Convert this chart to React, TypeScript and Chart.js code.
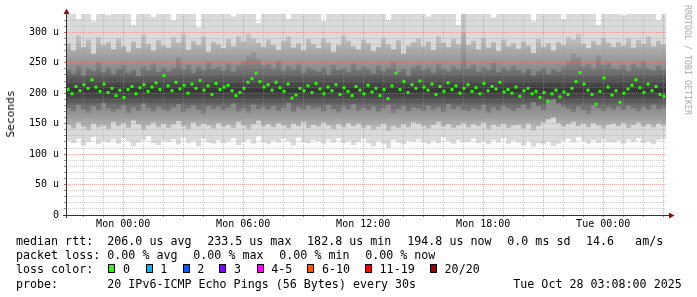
import React, { useEffect, useRef } from "react";
import { Chart, registerables } from "chart.js";

Chart.register(...registerables);

// ---- time axis (hours relative to Mon 00:00) ----
const START_HOUR = -2.86;
const END_HOUR = 27.14;
const SMOKE_STEP_HOURS = 0.25;
const MEDIAN_STEP_HOURS = 0.2;

const xTickLabelHours = [0, 6, 12, 18, 24];
const xTickLabels = ["Mon 00:00", "Mon 06:00", "Mon 12:00", "Mon 18:00", "Tue 00:00"];
const yTickLabelValues = [0, 50, 100, 150, 200, 250, 300];
const yTickLabels = ["0", "50 u", "100 u", "150 u", "200 u", "250 u", "300 u"];

// ---- median rtt (µs), one value per 12 minutes ----
const medianRtt = [
  206, 199, 211, 204, 214, 208, 222, 210, 203, 215,
  201, 208, 196, 205, 193, 206, 211, 199, 209, 214,
  203, 210, 217, 206, 229, 212, 204, 218, 207, 213,
  200, 215, 208, 221, 205, 212, 198, 216, 206, 210,
  213, 204, 196, 201, 208, 218, 224, 233, 219, 210,
  214, 205, 218, 209, 203, 215, 192, 197, 208, 204,
  212, 201, 216, 207, 199, 210, 204, 214, 198, 209,
  203, 196, 211, 205, 199, 213, 202, 208, 196, 206,
  191, 212, 233, 206, 219, 201, 214, 208, 220, 210,
  205, 215, 198, 211, 203, 217, 206, 212, 200, 208,
  214, 203, 209, 199, 216, 204, 211, 207, 218, 202,
  206, 200, 210, 195, 204, 208, 199, 203, 193, 201,
  187, 199, 205, 194, 202, 198, 208, 219, 234, 215,
  205, 198, 182, 203, 225, 210, 197, 204, 185, 200,
  207, 213, 222, 209, 201, 215, 204, 211, 198, 195,
];

// ---- smoke envelopes (µs), one value per 15 minutes ----
const smokeOuterHigh = [
  335, 335, 322, 335, 335, 318, 335, 335, 328, 335,
  335, 335, 335, 312, 335, 335, 335, 325, 335, 335,
  335, 320, 335, 335, 335, 335, 308, 335, 335, 335,
  335, 335, 335, 326, 335, 335, 335, 335, 315, 335,
  335, 335, 335, 335, 322, 335, 335, 335, 335, 335,
  335, 318, 335, 335, 335, 335, 330, 335, 335, 335,
  335, 335, 335, 335, 320, 335, 335, 335, 335, 335,
  335, 335, 326, 335, 335, 335, 335, 335, 312, 335,
  335, 335, 335, 335, 335, 324, 335, 335, 335, 335,
  335, 335, 335, 318, 335, 335, 335, 335, 335, 322,
  335, 335, 335, 335, 335, 335, 312, 335, 335, 335,
  335, 328, 335, 335, 335, 335, 335, 335, 320, 335,
];
const smokeOuterLow = [
  122, 118, 125, 114, 120, 128, 116, 121, 119, 124,
  117, 126, 121, 113, 119, 123, 130, 118, 115, 122,
  120, 124, 116, 127, 118, 121, 113, 125, 119, 117,
  123, 118, 121, 126, 115, 120, 124, 117, 129, 119,
  116, 122, 119, 125, 121, 114, 127, 120, 118, 123,
  121, 117, 124, 119, 126, 118, 122, 115, 120, 125,
  118, 113, 121, 117, 110, 123, 119, 116, 122, 120,
  124, 119, 116, 122, 118, 127, 121, 117, 123, 119,
  120, 125, 118, 121, 116, 123, 119, 126, 117, 122,
  119, 114, 121, 112, 118, 116, 120, 113, 117, 122,
  125, 119, 128, 121, 117, 123, 118, 124, 120, 119,
  122, 117, 124, 120, 126, 118, 121, 116, 123, 125,
];
const smokeMidHigh = [
  282, 270, 295, 276, 288, 265, 292, 279, 284, 272,
  290, 277, 268, 285, 274, 296, 281, 270, 287, 278,
  275, 292, 283, 298, 271, 286, 279, 293, 268, 284,
  280, 274, 289, 277, 294, 285, 298, 290, 283, 276,
  288, 279, 271, 286, 293, 275, 282, 270, 289, 281,
  274, 290, 283, 268, 279, 295, 286, 277, 272, 288,
  282, 269, 276, 291, 280, 272, 287, 265, 278, 284,
  290, 277, 285, 271, 294, 283, 276, 289, 280, 300,
  279, 286, 272, 291, 275, 284, 269, 288, 277, 282,
  273, 285, 278, 266, 289, 276, 282, 270, 284, 279,
  292, 288, 297, 281, 274, 286, 279, 291, 283, 276,
  284, 278, 290, 275, 287, 281, 293, 277, 286, 280,
];
const smokeMidLow = [
  148, 142, 152, 145, 139, 150, 144, 147, 141, 153,
  146, 151, 143, 155, 149, 140, 147, 152, 144, 150,
  143, 149, 154, 146, 141, 152, 145, 150, 147, 142,
  151, 145, 148, 143, 153, 147, 141, 149, 155, 146,
  149, 144, 151, 147, 142, 150, 146, 153, 143, 148,
  145, 152, 147, 141, 149, 144, 151, 146, 150, 143,
  147, 140, 145, 150, 138, 146, 143, 149, 144, 152,
  150, 146, 142, 148, 153, 145, 149, 143, 147, 151,
  144, 149, 146, 152, 141, 148, 145, 150, 143, 147,
  148, 142, 150, 139, 146, 152, 157, 160, 151, 145,
  149, 153, 146, 150, 144, 151, 147, 142, 148, 150,
  146, 151, 143, 148, 152, 145, 149, 144, 150, 147,
];
const smokeCoreHigh = [
  238, 232, 245, 229, 241, 236, 250, 234, 243, 231,
  240, 246, 233, 238, 228, 244, 237, 249, 235, 242,
  236, 241, 258, 239, 247, 233, 244, 238, 251, 240,
  243, 237, 249, 235, 246, 252, 262, 268, 256, 245,
  248, 240, 253, 236, 244, 239, 247, 233, 242, 238,
  235, 243, 230, 246, 238, 241, 234, 249, 237, 244,
  239, 232, 245, 236, 242, 251, 234, 240, 228, 243,
  246, 238, 242, 233, 248, 240, 236, 244, 239, 330,
  241, 247, 235, 243, 238, 250, 234, 242, 237, 245,
  238, 233, 240, 229, 236, 242, 231, 239, 235, 244,
  252, 265, 258, 244, 248, 240, 262, 246, 250, 241,
  239, 246, 236, 248, 242, 253, 240, 237, 245, 238,
];
const smokeCoreLow = [
  176, 170, 181, 173, 168, 179, 172, 184, 175, 169,
  174, 180, 167, 177, 171, 183, 176, 170, 178, 173,
  171, 177, 182, 169, 175, 180, 173, 166, 179, 174,
  178, 172, 176, 183, 170, 175, 168, 181, 174, 177,
  173, 179, 171, 176, 184, 169, 177, 172, 180, 175,
  177, 170, 181, 174, 168, 178, 173, 182, 171, 176,
  172, 178, 169, 175, 181, 167, 174, 179, 170, 177,
  175, 171, 180, 173, 177, 169, 182, 174, 178, 172,
  170, 176, 173, 181, 168, 177, 172, 179, 175, 171,
  176, 181, 174, 185, 179, 172, 188, 190, 183, 178,
  174, 169, 178, 172, 166, 180, 175, 171, 177, 173,
  178, 172, 180, 175, 170, 177, 173, 181, 174, 176,
];

// ---- legend text ----
const medianLabel = "median rtt:";
const medianStats = ["206.0 us avg", "233.5 us max", "182.8 us min", "194.8 us now", "0.0 ms sd", "14.6   am/s"];
const lossLabel = "packet loss:";
const lossStats = ["0.00 % avg", "0.00 % max", "0.00 % min", "0.00 % now"];
const lossColorLabel = "loss color:";
const lossColorNames = ["0", "1", "2", "3", "4-5", "6-10", "11-19", "20/20"];
const lossColorValues = ["#26ff00", "#00b8ff", "#0059ff", "#7e00ff", "#ff00ff", "#ff5500", "#ff0000", "#a00000"];
const probeLabel = "probe:";
const probeText = "20 IPv6-ICMP Echo Pings (56 Bytes) every 30s";
const stampText = "Tue Oct 28 03:08:00 2025";
const yTitle = "Seconds";
const watermark = "RRDTOOL / TOBI OETIKER";

// ---- layout constants ----
const MONO = "'DejaVu Sans Mono', monospace";
const medianStatX = [107.3, 207.2, 307.1, 407.3, 507.3, 586];
const lossStatX = [107.3, 193.3, 279.3, 365.2];
const lossBoxX = [108.3, 145.7, 182.7, 219.3, 256.7, 307.3, 365, 430];

const smokeX = (i: number) => START_HOUR + (i + 0.5) * SMOKE_STEP_HOURS;
const medianX = (i: number) => START_HOUR + (i + 0.5) * MEDIAN_STEP_HOURS;

function gradientFor(chart: any, stops: [number, number][]) {
  const { ctx, scales } = chart;
  const y = scales.y;
  const top = y.getPixelForValue(340);
  const bottom = y.getPixelForValue(100);
  const g = ctx.createLinearGradient(0, top, 0, bottom);
  for (const [v, a] of stops) {
    const off = Math.min(1, Math.max(0, (y.getPixelForValue(v) - top) / (bottom - top)));
    g.addColorStop(off, `rgba(0,0,0,${a})`);
  }
  return g;
}

const MID_STOPS: [number, number][] = [
  [340, 0.04], [300, 0.08], [285, 0.14], [270, 0.22], [250, 0.32], [235, 0.38], [205, 0.42],
  [175, 0.36], [160, 0.28], [150, 0.2], [140, 0.14], [100, 0.05],
];
const CORE_STOPS: [number, number][] = [
  [340, 0.1], [260, 0.1], [245, 0.12], [235, 0.18], [222, 0.35], [205, 0.58], [190, 0.4],
  [180, 0.22], [170, 0.14], [100, 0.1],
];

const rrdAxes = {
  id: "rrdAxes",
  afterDraw(chart: any) {
    const { ctx, chartArea: a } = chart;
    ctx.save();
    ctx.strokeStyle = "#333333";
    ctx.lineWidth = 1;
    ctx.setLineDash([]);
    ctx.beginPath();
    ctx.moveTo(a.left + 0.5, a.bottom + 3);
    ctx.lineTo(a.left + 0.5, a.top - 1);
    ctx.moveTo(a.left - 3, a.bottom + 0.5);
    ctx.lineTo(a.right + 4, a.bottom + 0.5);
    ctx.stroke();
    ctx.fillStyle = "#8c1010";
    ctx.beginPath();
    ctx.moveTo(a.left + 0.5, a.top - 5.5);
    ctx.lineTo(a.left - 2.5, a.top);
    ctx.lineTo(a.left + 3.5, a.top);
    ctx.closePath();
    ctx.fill();
    ctx.beginPath();
    ctx.moveTo(a.right + 8.5, a.bottom + 0.5);
    ctx.lineTo(a.right + 3, a.bottom - 2.5);
    ctx.lineTo(a.right + 3, a.bottom + 3.5);
    ctx.closePath();
    ctx.fill();
    ctx.restore();
  },
};

export default function App() {
  const ref = useRef<HTMLCanvasElement>(null);

  useEffect(() => {
    const canvas = ref.current;
    if (!canvas) return;

    const bandDefaults = {
      type: "bar" as const,
      grouped: false,
      barPercentage: 1,
      categoryPercentage: 1,
      borderWidth: 0,
      inflateAmount: 0,
    };

    const chart = new Chart(canvas, {
      type: "bar",
      data: {
        datasets: [
          {
            type: "line",
            label: "median",
            data: medianRtt.map((v, i) => ({ x: medianX(i), y: v })),
            showLine: false,
            pointStyle: "rect",
            pointRadius: 2.1,
            pointBackgroundColor: "#26ff00",
            pointBorderWidth: 0,
            order: 0,
          } as any,
          {
            ...bandDefaults,
            label: "core",
            data: smokeCoreLow.map((v, i) => ({ x: smokeX(i), y: [v, smokeCoreHigh[i]] })),
            backgroundColor: (c: any) => (c.chart.chartArea ? gradientFor(c.chart, CORE_STOPS) : "rgba(0,0,0,0.4)"),
            order: 1,
          } as any,
          {
            ...bandDefaults,
            label: "mid",
            data: smokeMidLow.map((v, i) => ({ x: smokeX(i), y: [v, smokeMidHigh[i]] })),
            backgroundColor: (c: any) => (c.chart.chartArea ? gradientFor(c.chart, MID_STOPS) : "rgba(0,0,0,0.3)"),
            order: 2,
          } as any,
          {
            ...bandDefaults,
            label: "outer",
            data: smokeOuterLow.map((v, i) => ({ x: smokeX(i), y: [v, smokeOuterHigh[i]] })),
            backgroundColor: "#dadada",
            order: 3,
          } as any,
        ],
      },
      options: {
        responsive: false,
        devicePixelRatio: 1,
        animation: false,
        events: [],
        layout: { padding: { left: 0, top: 14, right: 31, bottom: 62 } },
        plugins: { legend: { display: false }, tooltip: { enabled: false }, title: { display: false } },
        scales: {
          x: {
            type: "linear",
            min: START_HOUR,
            max: END_HOUR,
            offset: false,
            afterBuildTicks: (s: any) => {
              const t = [];
              for (let h = Math.ceil(START_HOUR); h <= Math.floor(END_HOUR); h++) t.push({ value: h });
              s.ticks = t;
            },
            afterFit: (s: any) => {
              s.height = 20;
            },
            grid: {
              z: 1,
              offset: false,
              lineWidth: 1,
              drawTicks: true,
              tickLength: 2,
              color: (c: any) => (c.tick && c.tick.value % 3 === 0 ? "rgba(235,110,110,0.6)" : "rgba(150,150,150,0.45)"),
              tickColor: (c: any) => (c.tick && c.tick.value % 3 === 0 ? "rgba(200,80,80,0.9)" : "rgba(120,120,120,0.8)"),
            },
            border: { display: false, dash: [1, 1] },
            ticks: {
              autoSkip: false,
              maxRotation: 0,
              minRotation: 0,
              padding: 1,
              color: "#000",
              font: { family: MONO, size: 10 },
              callback: (v: any) => {
                const k = xTickLabelHours.indexOf(Number(v));
                return k >= 0 ? xTickLabels[k] : "";
              },
            },
          },
          y: {
            type: "linear",
            min: 0,
            max: 330,
            afterBuildTicks: (s: any) => {
              const t = [];
              for (let v = 0; v <= 320; v += 10) t.push({ value: v });
              s.ticks = t;
            },
            afterFit: (s: any) => {
              s.width = 66;
            },
            grid: {
              z: 1,
              lineWidth: 1,
              drawTicks: true,
              tickLength: 2,
              color: (c: any) => (c.tick && c.tick.value % 50 === 0 ? "rgba(235,110,110,0.6)" : "rgba(150,150,150,0.45)"),
              tickColor: (c: any) => (c.tick && c.tick.value % 50 === 0 ? "rgba(200,80,80,0.9)" : "rgba(120,120,120,0.8)"),
            },
            border: { display: false, dash: [1, 1] },
            ticks: {
              autoSkip: false,
              padding: 5,
              color: "#000",
              font: { family: MONO, size: 10 },
              callback: (v: any) => {
                const k = yTickLabelValues.indexOf(Number(v));
                return k >= 0 ? yTickLabels[k] : "";
              },
            },
          },
        },
      },
      plugins: [rrdAxes],
    } as any);

    return () => chart.destroy();
  }, []);

  const legendFont = `11.66px ${MONO}`;
  const txt = (x: number, top: number, s: string, key: string) => (
    <div
      key={key}
      style={{ position: "absolute", left: x, top, font: legendFont, lineHeight: "14px", whiteSpace: "pre", color: "#000" }}
    >
      {s}
    </div>
  );

  return (
    <div style={{ position: "fixed", left: 0, top: 0, width: 697, height: 297, background: "#fff", overflow: "hidden" }}>
      <canvas ref={ref} width={697} height={297} style={{ position: "absolute", left: 0, top: 0, width: 697, height: 297 }} />
      <div
        style={{
          position: "absolute",
          left: 11.1,
          top: 113.5,
          font: `11.2px ${MONO}`,
          lineHeight: "14px",
          whiteSpace: "pre",
          transform: "translate(-50%, -50%) rotate(-90deg)",
          color: "#000",
        }}
      >
        {yTitle}
      </div>
      <div
        style={{
          position: "absolute",
          left: 692,
          top: 5,
          font: `8.3px ${MONO}`,
          lineHeight: "8.3px",
          whiteSpace: "pre",
          transformOrigin: "0 0",
          transform: "rotate(90deg)",
          color: "#aaaaaa",
        }}
      >
        {watermark}
      </div>
      {txt(16, 234.3, medianLabel, "ml")}
      {medianStats.map((s, i) => txt(medianStatX[i], 234.3, s, "ms" + i))}
      {txt(16, 248.3, lossLabel, "pl")}
      {lossStats.map((s, i) => txt(lossStatX[i], 248.3, s, "ls" + i))}
      {txt(16, 262, lossColorLabel, "lc")}
      {lossColorNames.map((s, i) => (
        <React.Fragment key={"lcb" + i}>
          <div
            style={{
              position: "absolute",
              left: lossBoxX[i],
              top: 264,
              width: 5,
              height: 7,
              border: "1px solid #000",
              background: lossColorValues[i],
            }}
          />
          {txt(lossBoxX[i] + 14.6, 262, s, "lct" + i)}
        </React.Fragment>
      ))}
      {txt(16, 276.7, probeLabel, "pr")}
      {txt(107.3, 276.7, probeText, "pt")}
      {txt(513.3, 276.7, stampText, "st")}
    </div>
  );
}
